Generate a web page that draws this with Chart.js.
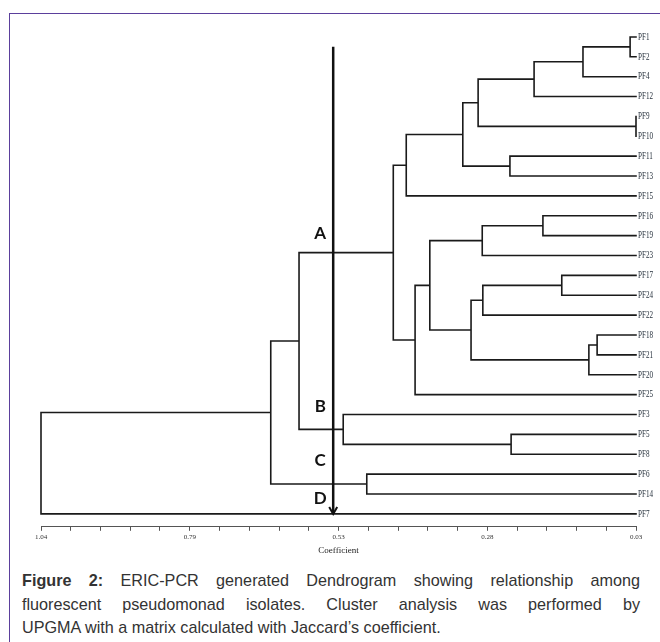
<!DOCTYPE html>
<html lang="en">
<head>
<meta charset="UTF-8">
<title>ERIC-PCR Dendrogram</title>
<script src="https://cdn.jsdelivr.net/npm/chart.js"></script>
<style>
    body { margin: 0; background: #fff; }
    .page { position: relative; width: 660px; height: 642px; overflow: hidden; background: #fff; }
    #dendro { position: absolute; left: 0; top: 0; }
    .frame-top { position: absolute; left: 9px; top: 13px; width: 651px; height: 1px; background: #5b3f9c; }
    .frame-left { position: absolute; left: 9px; top: 13px; width: 1px; height: 629px; background: #5b3f9c; }
    .caption {
        position: absolute; left: 22px; top: 569px; width: 618px;
        font-family: "Liberation Sans", Arial, sans-serif; font-size: 16.2px;
        line-height: 23.5px; color: #333;
    }
    .caption .full { text-align: justify; text-align-last: justify; }
</style>
</head>
<body>
<div class="page">
    <canvas id="dendro" width="660" height="560"></canvas>
    <div class="frame-top"></div>
    <div class="frame-left"></div>
    <div class="caption">
        <div class="full"><b>Figure 2:</b> ERIC-PCR generated Dendrogram showing relationship among</div>
        <div class="full">fluorescent pseudomonad isolates. Cluster analysis was performed by</div>
        <div>UPGMA with a matrix calculated with Jaccard’s coefficient.</div>
    </div>
</div>
<script>
    // leaves, top to bottom
    const leaves = ['PF1', 'PF2', 'PF4', 'PF12', 'PF9', 'PF10', 'PF11', 'PF13', 'PF15', 'PF16', 'PF19', 'PF23',
        'PF17', 'PF24', 'PF22', 'PF18', 'PF21', 'PF20', 'PF25', 'PF3', 'PF5', 'PF8', 'PF6', 'PF14', 'PF7'];
    const leafHeight = 0.03;

    // UPGMA merges, in order. ids 0-24 are leaves, id 25+k is merge k
    const mergeLeft = [0, 4, 15, 27, 25, 12, 9, 29, 6, 20, 30, 31, 32, 35, 37, 36, 40, 39, 42, 22, 19, 43, 46, 47];
    const mergeRight = [1, 5, 16, 17, 2, 13, 10, 3, 7, 21, 14, 11, 26, 28, 33, 38, 18, 8, 41, 23, 34, 45, 44, 24];
    const mergeHeight = [0.04, 0.03, 0.096, 0.11, 0.12, 0.156, 0.188, 0.203, 0.244, 0.242, 0.29, 0.291,
        0.298, 0.31, 0.324, 0.38, 0.405, 0.42, 0.442, 0.487, 0.527, 0.602, 0.65, 1.04];

    const tickLabels = ['1.04', '0.79', '0.53', '0.28', '0.03'];

    // cluster cut arrow and letters
    const arrowX = [0.544, 0.544];
    const arrowY = [0.5, 24];
    const clusterLetters = ['A', 'B', 'C', 'D'];
    const letterX = [0.566, 0.566, 0.566, 0.566];
    const letterY = [9.88, 18.6, 21.3, 23.25];

    // node positions
    const nodeY = leaves.map((_, i) => i);
    const nodeH = leaves.map(() => leafHeight);
    const treePoints = [];
    mergeHeight.forEach((h, k) => {
        const a = mergeLeft[k], b = mergeRight[k];
        treePoints.push({ x: nodeH[a], y: nodeY[a] });
        treePoints.push({ x: h, y: nodeY[a] });
        treePoints.push({ x: h, y: nodeY[b] });
        treePoints.push({ x: nodeH[b], y: nodeY[b] });
        treePoints.push({ x: h, y: null }); // break the line
        nodeY.push((nodeY[a] + nodeY[b]) / 2);
        nodeH.push(h);
    });

    const xMax = parseFloat(tickLabels[0]);
    const xMin = parseFloat(tickLabels[tickLabels.length - 1]);

    const treeDecor = {
        id: 'treeDecor',
        afterDatasetsDraw(chart) {
            const { ctx, chartArea } = chart;
            const x = chart.scales.x, y = chart.scales.y;
            ctx.save();

            // leaf names, narrow serif like the original print
            ctx.fillStyle = '#1f2a36';
            ctx.font = '10.5px "Liberation Serif"';
            ctx.textBaseline = 'middle';
            leaves.forEach((name, i) => {
                ctx.save();
                ctx.translate(chartArea.right + 2, y.getPixelForValue(i));
                ctx.scale(0.68, 1);
                ctx.fillText(name, 0, 0);
                ctx.restore();
            });

            // arrow head
            const ax = x.getPixelForValue(arrowX[1]);
            const ay = y.getPixelForValue(arrowY[1]);
            ctx.strokeStyle = '#111';
            ctx.lineWidth = 2;
            ctx.beginPath();
            ctx.moveTo(ax - 4, ay - 7);
            ctx.lineTo(ax, ay);
            ctx.lineTo(ax + 4, ay - 7);
            ctx.stroke();

            // cluster letters
            ctx.fillStyle = '#111';
            ctx.font = 'bold 17px Lato';
            ctx.textAlign = 'center';
            clusterLetters.forEach((l, i) => {
                ctx.fillText(l, x.getPixelForValue(letterX[i]), y.getPixelForValue(letterY[i]));
            });
            ctx.restore();
        }
    };

    const ctx = document.getElementById('dendro').getContext('2d');
    new Chart(ctx, {
        type: 'line',
        data: {
            datasets: [
                {
                    data: arrowX.map((v, i) => ({ x: v, y: arrowY[i] })),
                    borderColor: '#111',
                    borderWidth: 2.5,
                    pointRadius: 0,
                    clip: false
                },
                {
                    data: treePoints,
                    borderColor: '#1a1a1a',
                    borderWidth: 1.6,
                    pointRadius: 0,
                    spanGaps: false,
                    borderCapStyle: 'square',
                    clip: false
                }
            ]
        },
        options: {
            responsive: false,
            animation: false,
            layout: { padding: { left: 41, right: 24, top: 27, bottom: 1 } },
            scales: {
                x: {
                    type: 'linear',
                    reverse: true,
                    min: xMin,
                    max: xMax,
                    afterBuildTicks: scale => {
                        const step = (xMax - xMin) / 20;
                        scale.ticks = [];
                        for (let k = 0; k <= 20; k++) scale.ticks.push({ value: xMax - k * step });
                    },
                    grid: { drawOnChartArea: false, tickLength: 4, tickColor: '#555' },
                    border: { color: '#555', width: 1 },
                    ticks: {
                        autoSkip: false,
                        maxRotation: 0,
                        padding: 2,
                        color: '#333',
                        font: { family: 'Liberation Serif', size: 7 },
                        callback: (v, i) => (i % 5 === 0 ? tickLabels[i / 5] : '')
                    },
                    title: {
                        display: true,
                        text: 'Coefficient',
                        color: '#222',
                        font: { family: 'Liberation Serif', size: 9 },
                        padding: { top: 2, bottom: 3 }
                    }
                },
                y: {
                    type: 'linear',
                    reverse: true,
                    min: -0.5,
                    max: 24.65,
                    display: false
                }
            },
            plugins: {
                legend: { display: false },
                tooltip: { enabled: false }
            }
        },
        plugins: [treeDecor]
    });
</script>
</body>
</html>
